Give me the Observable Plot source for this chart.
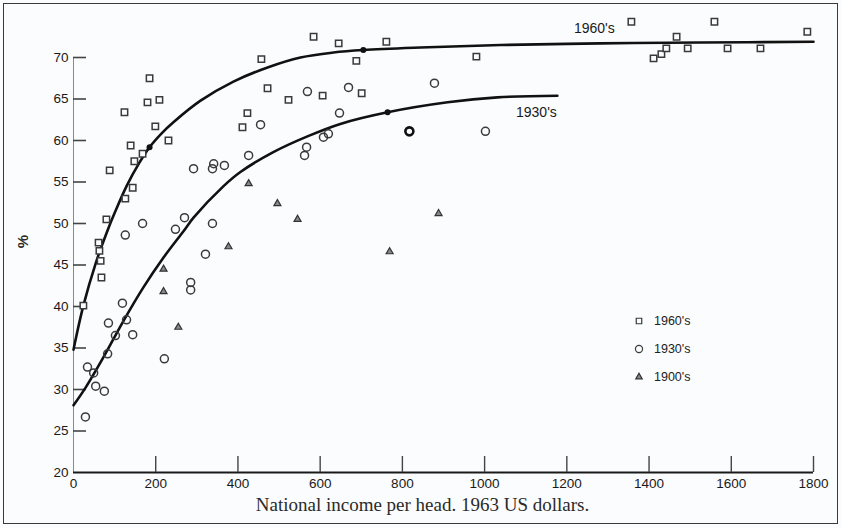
<!DOCTYPE html>
<html>
<head>
<meta charset="utf-8">
<script src="https://cdn.jsdelivr.net/npm/d3@7"></script>
<script src="https://cdn.jsdelivr.net/npm/@observablehq/plot@0.6"></script>
<style>
  html, body { margin: 0; padding: 0; background: #fbfcfd; }
  #wrap { position: relative; width: 842px; height: 528px; overflow: hidden; }
  #chart { position: absolute; left: 0; top: 0; }
  #border { position: absolute; left: 3px; top: 3px; width: 833px; height: 519px; border: 1.6px solid #3a3a3a; pointer-events: none; }
  #legend { position: absolute; left: 633px; top: 307px; font-family: "Liberation Sans", Arial, sans-serif; font-size: 12.5px; color: #222; }
  #legend div { height: 28px; display: flex; align-items: center; }
  #legend svg { margin-right: 9px; }
</style>
</head>
<body>
<div id="wrap">
  <div id="chart"></div>
  <div id="legend"></div>
  <div id="border"></div>
</div>
<script>
// ---- Data (x = national income per head, 1963 US$; y = life expectancy, years) ----
const seriesNames = ["1960's", "1930's", "1900's"];

const points1960s = [
  [24,40.1],[61,47.7],[63,46.7],[66,45.5],[68,43.5],[80,50.5],[126,53.0],[144,54.3],
  [88,56.4],[148,57.5],[168,58.4],[139,59.4],[231,60.0],[199,61.7],[124,63.4],[180,64.6],
  [209,64.9],[185,67.5],[411,61.6],[423,63.3],[472,66.3],[523,64.9],[457,69.8],[584,72.5],
  [645,71.7],[688,69.6],[761,71.9],[701,65.7],[606,65.4],[980,70.1],[1357,74.3],[1559,74.3],
  [1785,73.1],[1467,72.5],[1411,69.9],[1430,70.4],[1442,71.1],[1494,71.1],[1591,71.1],[1671,71.1]
];

const points1930s = [
  [817,61.1],[1002,61.1],[878,66.9],[647,63.3],[669,66.4],[569,65.9],[608,60.4],[620,60.8],
  [567,59.2],[562,58.2],[455,61.9],[426,58.2],[292,56.6],[341,57.2],[338,56.6],[367,57.0],
  [168,50.0],[270,50.7],[248,49.3],[126,48.6],[338,50.0],[321,46.3],[285,42.9],[285,42.0],
  [119,40.4],[129,38.4],[85,38.0],[102,36.5],[144,36.6],[83,34.3],[221,33.7],[34,32.7],
  [49,32.0],[54,30.4],[75,29.8],[29,26.7]
];

const points1900s = [
  [426,54.8],[496,52.4],[545,50.5],[377,47.2],[769,46.6],[888,51.2],[219,44.5],[219,41.8],[255,37.5]
];

const curve1960s = [
  [0,34.8],[24,40.1],[54,45.2],[80,48.8],[102,51.5],[130,54.6],[160,57.3],[185,59.2],
  [215,60.9],[243,62.2],[309,64.8],[389,67.1],[472,68.8],[552,70.0],[632,70.6],[705,70.9],
  [844,71.2],[1039,71.5],[1282,71.7],[1525,71.8],[1800,71.9]
];

const curve1930s = [
  [0,28.1],[29,30.2],[73,33.9],[122,38.3],[170,42.3],[219,45.9],[268,49.1],[292,50.7],
  [365,54.5],[406,56.2],[486,58.6],[569,60.5],[649,62.0],[764,63.4],[910,64.6],[1031,65.2],[1177,65.4]
];

const curveMarkers = [[185,59.2],[705,70.9],[764,63.4]];
const emphasised1930s = [[817,61.1]];

const curveLabels = [
  {label: "1960's", x: 1267, y: 73.5},
  {label: "1930's", x: 1126, y: 63.4}
];

const xTicks = [0,200,400,600,800,1000,1200,1400,1600,1800];
const yTicks = [20,25,30,35,40,45,50,55,60,65,70];
const xLabel = "National income per head. 1963 US dollars.";
const yLabel = "%";

// ---- Chart ----
const W = 842, H = 528, mL = 73, mR = 29, mT = 15.5, mB = 56;
const plotW = W - mL - mR, plotH = H - mT - mB;
const ink = "#3a3a3a";

const chart = Plot.plot({
  width: W, height: H,
  marginLeft: mL, marginRight: mR, marginTop: mT, marginBottom: mB,
  style: {fontFamily: "'Liberation Sans', Arial, sans-serif", fontSize: "13.5px", color: "#1a1a1a", background: "transparent"},
  x: {domain: [0, 1800], ticks: xTicks, tickFormat: d3.format("d"), tickSize: 0, tickPadding: 6, label: null},
  y: {domain: [20, 75], ticks: yTicks, tickFormat: d3.format("d"), tickSize: 0, tickPadding: 5, label: null},
  marks: [
    // y-axis line (thin, grey)
    Plot.ruleX([0], {y1: 20, y2: 70, stroke: "#8a8a8a", strokeWidth: 1}),
    // y ticks pointing inward
    Plot.tickY(yTicks.slice(1), {y: d => d, stroke: "#444", strokeWidth: 1.6, insetRight: plotW - 13}),
    // x-axis line (thick black)
    Plot.ruleY([20], {x1: 0, x2: 1800, stroke: "#1a1a1a", strokeWidth: 2.2}),
    // x ticks pointing upward
    Plot.tickX(xTicks.slice(1), {x: d => d, stroke: "#444", strokeWidth: 1.4, insetTop: plotH - 16}),
    // fitted curves
    Plot.line(curve1960s, {x: d => d[0], y: d => d[1], curve: "catmull-rom", stroke: "#111", strokeWidth: 2.6}),
    Plot.line(curve1930s, {x: d => d[0], y: d => d[1], curve: "catmull-rom", stroke: "#111", strokeWidth: 2.6}),
    Plot.dot(curveMarkers, {x: d => d[0], y: d => d[1], r: 3, fill: "#111", stroke: "none"}),
    // data points
    Plot.dot(points1960s, {x: d => d[0], y: d => d[1], symbol: "square", r: 3.6, fill: "#fbfcfd", stroke: ink, strokeWidth: 1.5}),
    Plot.dot(points1930s, {x: d => d[0], y: d => d[1], symbol: "circle", r: 4, fill: "none", stroke: ink, strokeWidth: 1.5}),
    Plot.dot(emphasised1930s, {x: d => d[0], y: d => d[1], symbol: "circle", r: 4, fill: "none", stroke: "#111", strokeWidth: 2.6}),
    Plot.dot(points1900s, {x: d => d[0], y: d => d[1], symbol: "triangle", r: 2.6, fill: "#888", stroke: "#333", strokeWidth: 1.2}),
    // curve labels
    Plot.text(curveLabels, {x: "x", y: "y", text: "label", fontSize: 14, fill: "#1a1a1a"}),
    // axis titles
    Plot.text([xLabel], {frameAnchor: "bottom", dx: -21, dy: 38, fontFamily: "'Liberation Serif', 'Times New Roman', serif", fontSize: 19, fill: "#2a2a2a"}),
    Plot.text([yLabel], {frameAnchor: "left", dx: -50, dy: 4, rotate: -90, fontSize: 15, fontWeight: "bold", fill: "#2a2a2a"})
  ]
});
document.getElementById("chart").appendChild(chart);

// ---- Legend ----
const legend = document.getElementById("legend");
const legendSymbols = ["square", "circle", "triangle"];
seriesNames.forEach((name, i) => {
  const row = document.createElement("div");
  const s = d3.create("svg").attr("width", 12).attr("height", 12);
  const sym = {square: d3.symbolSquare, circle: d3.symbolCircle, triangle: d3.symbolTriangle}[legendSymbols[i]];
  s.append("path")
    .attr("transform", "translate(6,6)")
    .attr("d", d3.symbol(sym, i === 0 ? 30 : i === 1 ? 40 : 18)())
    .attr("fill", i === 2 ? "#888" : "none")
    .attr("stroke", i === 2 ? "#333" : ink).attr("stroke-width", 1.2);
  row.appendChild(s.node());
  const t = document.createElement("span");
  t.textContent = name;
  row.appendChild(t);
  legend.appendChild(row);
});
</script>
</body>
</html>
